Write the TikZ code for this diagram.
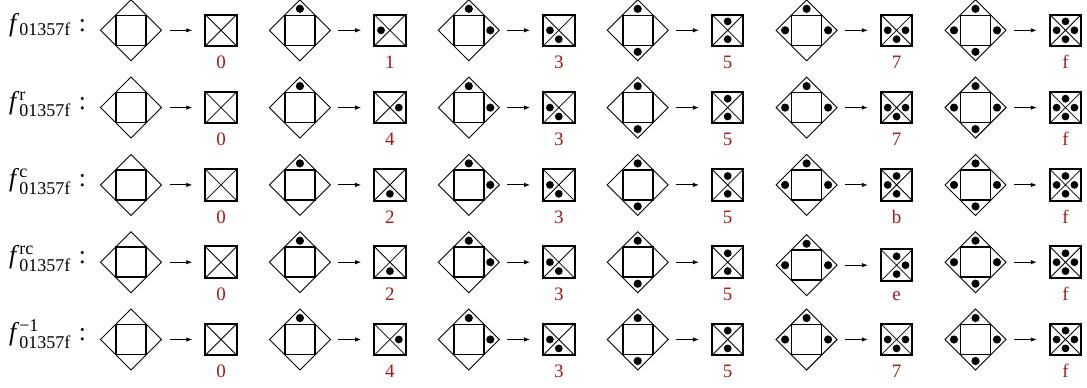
\documentclass[tikz,border=0pt]{standalone}
\usepackage{fontspec}
\usepackage{amsmath}
\setmainfont{Liberation Serif}
\usetikzlibrary{shapes.geometric,arrows.meta}
\definecolor{labred}{RGB}{165,25,25}

\tikzset{
  dia/.style={draw, shape=diamond, aspect=1, minimum width=61bp, minimum height=61bp, inner sep=0pt, outer sep=0pt, line width=0.9bp},
  insq/.style={draw, rectangle, minimum size=30bp, inner sep=0pt, outer sep=0pt, line width=1.6bp},
  cbox/.style={draw, rectangle, minimum size=31.5bp, inner sep=0pt, outer sep=0pt, line width=2bp},
  diag/.style={line width=0.8bp},
  arr/.style={-{Latex[length=6bp,width=4.5bp]}, line width=0.9bp, shorten <=8bp, shorten >=13bp},
  lab/.style={text=labred, inner sep=0pt, font=\fontsize{19bp}{22bp}\selectfont},
  fname/.style={inner sep=0pt, font=\fontsize{25.7bp}{30bp}\selectfont},
}

\newcommand{\dotat}[4]{%
  \if#2T\fill ([yshift=#3]#1.center) circle (#4);\fi
  \if#2B\fill ([yshift=-#3]#1.center) circle (#4);\fi
  \if#2R\fill ([xshift=#3]#1.center) circle (#4);\fi
  \if#2L\fill ([xshift=-#3]#1.center) circle (#4);\fi
}

\newcommand{\cell}[6]{%
  \pgfmathsetmacro{\cx}{131+168.9*(#2-1)}%
  \pgfmathsetmacro{\cy}{30.3+77.3*(#1-1)+#6}%
  \pgfmathsetmacro{\ly}{30.3+77.3*(#1-1)+38.3}%
  \pgfmathsetmacro{\bxx}{\cx+90}%
  \node[dia] (d#1#2) at (\cx,\cy) {};
  \node[insq] (s#1#2) at (\cx,\cy) {};
  \node[cbox] (b#1#2) at (\bxx,\cy) {};
  \draw[diag] (b#1#2.north west) -- (b#1#2.south east)
              (b#1#2.north east) -- (b#1#2.south west);
  \draw[arr] (d#1#2) -- (b#1#2);
  \foreach \p in {#3} {\dotat{d#1#2}{\p}{21.5bp}{4.1bp}}
  \foreach \p in {#4} {\dotat{b#1#2}{\p}{8.9bp}{3.9bp}}
  \node[lab, anchor=base] (l#1#2) at (\bxx,\ly) {#5};
}

\begin{document}
\begin{tikzpicture}[x=1bp,y=-1bp]
\useasboundingbox (0,0) rectangle (1087,387);

% row labels
\node[fname, anchor=base west] (f1) at (9,31.7) {\textit{f}$_{\text{01357f}}$\hspace{8bp}:};
\node[fname, anchor=base west] (f2) at (9,109.0) {\textit{f}$_{\text{01357f}}^{\text{r}}$\hspace{8bp}:};
\node[fname, anchor=base west] (f3) at (9,186.3) {\textit{f}$_{\text{01357f}}^{\text{c}}$\hspace{8bp}:};
\node[fname, anchor=base west] (f4) at (9,263.6) {\textit{f}$_{\text{01357f}}^{\text{rc}}$\hspace{8bp}:};
\node[fname, anchor=base west] (f5) at (9,340.9) {\textit{f}$_{\text{01357f}}^{\text{−1}}$\hspace{8bp}:};

% row 1
\cell{1}{1}{N}{N}{0}{0}
\cell{1}{2}{T}{L}{1}{0}
\cell{1}{3}{T,R}{L,B}{3}{0}
\cell{1}{4}{T,B}{T,B}{5}{0}
\cell{1}{5}{T,L,R}{L,R,B}{7}{0}
\cell{1}{6}{T,L,R,B}{T,L,R,B}{f}{0}
% row 2
\cell{2}{1}{N}{N}{0}{0}
\cell{2}{2}{T}{R}{4}{0}
\cell{2}{3}{T,R}{L,B}{3}{0}
\cell{2}{4}{T,B}{T,B}{5}{0}
\cell{2}{5}{T,L,R}{L,R,B}{7}{0}
\cell{2}{6}{T,L,R,B}{T,L,R,B}{f}{0}
% row 3
\cell{3}{1}{N}{N}{0}{0}
\cell{3}{2}{T}{B}{2}{0}
\cell{3}{3}{T,R}{L,B}{3}{0}
\cell{3}{4}{T,B}{T,B}{5}{0}
\cell{3}{5}{T,L,R}{T,L,B}{b}{0}
\cell{3}{6}{T,L,R,B}{T,L,R,B}{f}{0}
% row 4
\cell{4}{1}{N}{N}{0}{0}
\cell{4}{2}{T}{B}{2}{0}
\cell{4}{3}{T,R}{L,B}{3}{0}
\cell{4}{4}{T,B}{T,B}{5}{0}
\cell{4}{5}{T,L,R}{T,R,B}{e}{3}
\cell{4}{6}{T,L,R,B}{T,L,R,B}{f}{0}
% row 5
\cell{5}{1}{N}{N}{0}{0}
\cell{5}{2}{T}{R}{4}{0}
\cell{5}{3}{T,R}{L,B}{3}{0}
\cell{5}{4}{T,B}{T,B}{5}{0}
\cell{5}{5}{T,L,R}{L,R,B}{7}{0}
\cell{5}{6}{T,L,R,B}{T,L,R,B}{f}{0}
\end{tikzpicture}
\end{document}
